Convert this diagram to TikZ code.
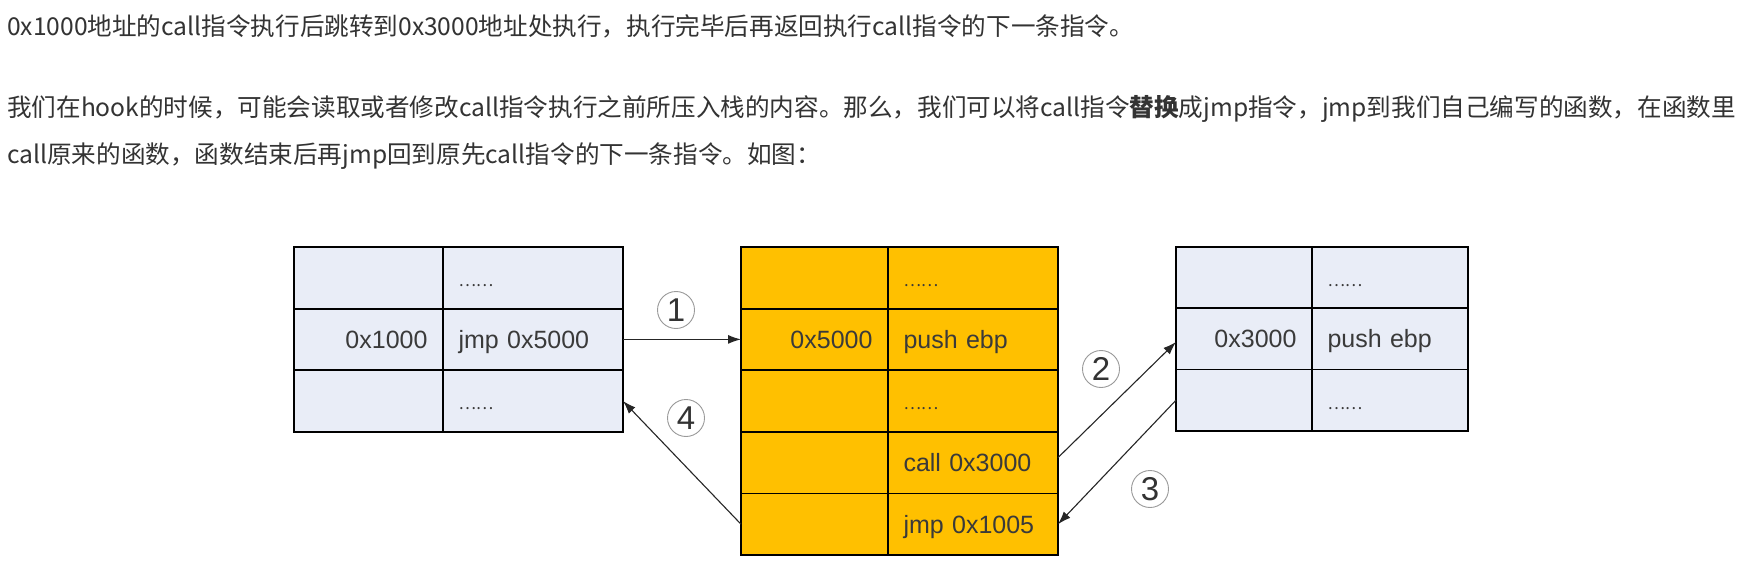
\documentclass[tikz,border=0pt]{standalone}
\usepackage{fontspec}
\setmainfont{Liberation Sans}
\newfontfamily\cjk{Noto Sans CJK SC}
\usetikzlibrary{arrows.meta}

\definecolor{paratext}{HTML}{333333}
\definecolor{celltext}{HTML}{3A3A3A}
\definecolor{cellblue}{HTML}{E9EDF7}
\definecolor{cellgold}{HTML}{FFC000}
\definecolor{ringgray}{HTML}{9A9A9A}

\newcommand{\tabfont}{\fontsize{25}{25}\selectfont}
\newcommand{\parafont}{\cjk\fontsize{24.6}{24.6}\selectfont}
\newcommand{\dotsfont}{\cjk\fontsize{16.5}{16.5}\selectfont}
\newcommand{\skipped}{{\dotsfont ……}}

\begin{document}
\begin{tikzpicture}[x=1pt,y=-1pt]
\tikzstyle{cell}=[draw=black,line width=1.8pt,minimum height=61.6pt,anchor=north west,
  inner xsep=15.5pt,inner ysep=0pt,outer sep=0pt,text height=20pt,text depth=2.2pt,
  font=\tabfont,text=celltext]
\tikzstyle{addr}=[cell,align=right]
\tikzstyle{instr}=[cell,align=left]
\tikzstyle{ring}=[circle,draw=ringgray,line width=0.9pt,minimum size=37pt,inner sep=0pt,
  font=\fontsize{33}{33}\selectfont,text=paratext]
\tikzstyle{jump}=[line width=1.1pt,draw=black!85,-{Latex[length=13pt,width=9pt]}]
\tikzstyle{para}=[anchor=west,inner sep=0pt,font=\parafont,text=paratext]

\useasboundingbox[fill=white] (0,0) rectangle (1744,569);

% text above the picture
\node[para] (t1) at (7,26) {0x1000地址的call指令执行后跳转到0x3000地址处执行，执行完毕后再返回执行call指令的下一条指令。};
\node[para] (t2) at (7,109) {我们在hook的时候，可能会读取或者修改call指令执行之前所压入栈的内容。那么，我们可以将call指令\textbf{替换}成jmp指令，jmp到我们自己编写的函数，在函数里};
\node[para] (t3) at (7,156) {call原来的函数，函数结束后再jmp回到原先call指令的下一条指令。如图：};

% original code
\node[addr,fill=cellblue,text width=118pt] (l1a) at (294,247) {};
\node[instr,fill=cellblue,text width=149pt] (l1i) at (443,247) {\skipped};
\node[addr,fill=cellblue,text width=118pt] (l2a) at (294,308.6) {0x1000};
\node[instr,fill=cellblue,text width=149pt] (l2i) at (443,308.6) {jmp 0x5000};
\node[addr,fill=cellblue,text width=118pt] (l3a) at (294,370.2) {};
\node[instr,fill=cellblue,text width=149pt] (l3i) at (443,370.2) {\skipped};

% own function
\node[addr,fill=cellgold,text width=116pt] (m1a) at (741,247) {};
\node[instr,fill=cellgold,text width=139pt] (m1i) at (888,247) {\skipped};
\node[addr,fill=cellgold,text width=116pt] (m2a) at (741,308.6) {0x5000};
\node[instr,fill=cellgold,text width=139pt] (m2i) at (888,308.6) {push ebp};
\node[addr,fill=cellgold,text width=116pt] (m3a) at (741,370.2) {};
\node[instr,fill=cellgold,text width=139pt] (m3i) at (888,370.2) {\skipped};
\node[addr,fill=cellgold,text width=116pt] (m4a) at (741,431.8) {};
\node[instr,fill=cellgold,text width=139pt] (m4i) at (888,431.8) {call 0x3000};
\node[addr,fill=cellgold,text width=116pt] (m5a) at (741,493.4) {};
\node[instr,fill=cellgold,text width=139pt] (m5i) at (888,493.4) {jmp 0x1005};

% original function
\node[addr,fill=cellblue,text width=105pt] (r1a) at (1176,247) {};
\node[instr,fill=cellblue,text width=125pt] (r1i) at (1312,247) {\skipped};
\node[addr,fill=cellblue,text width=105pt] (r2a) at (1176,308.2) {0x3000};
\node[instr,fill=cellblue,text width=125pt] (r2i) at (1312,308.2) {push ebp};
\node[addr,fill=cellblue,text width=105pt] (r3a) at (1176,369.4) {};
\node[instr,fill=cellblue,text width=125pt] (r3i) at (1312,369.4) {\skipped};

\node[ring] (n1) at (676,310) {1};
\node[ring] (n2) at (1101,369) {2};
\node[ring] (n3) at (1150,489) {3};
\node[ring] (n4) at (686,418) {4};

\draw[jump] (l2i.east) -- (m2a.west);
\draw[jump] ([yshift=5pt]m4i.east) -- ([yshift=-3pt]r2a.west);
\draw[jump] (r3a.west) -- (m5i.east);
\draw[jump] (m5a.west) -- (l3i.east);
\end{tikzpicture}
\end{document}
